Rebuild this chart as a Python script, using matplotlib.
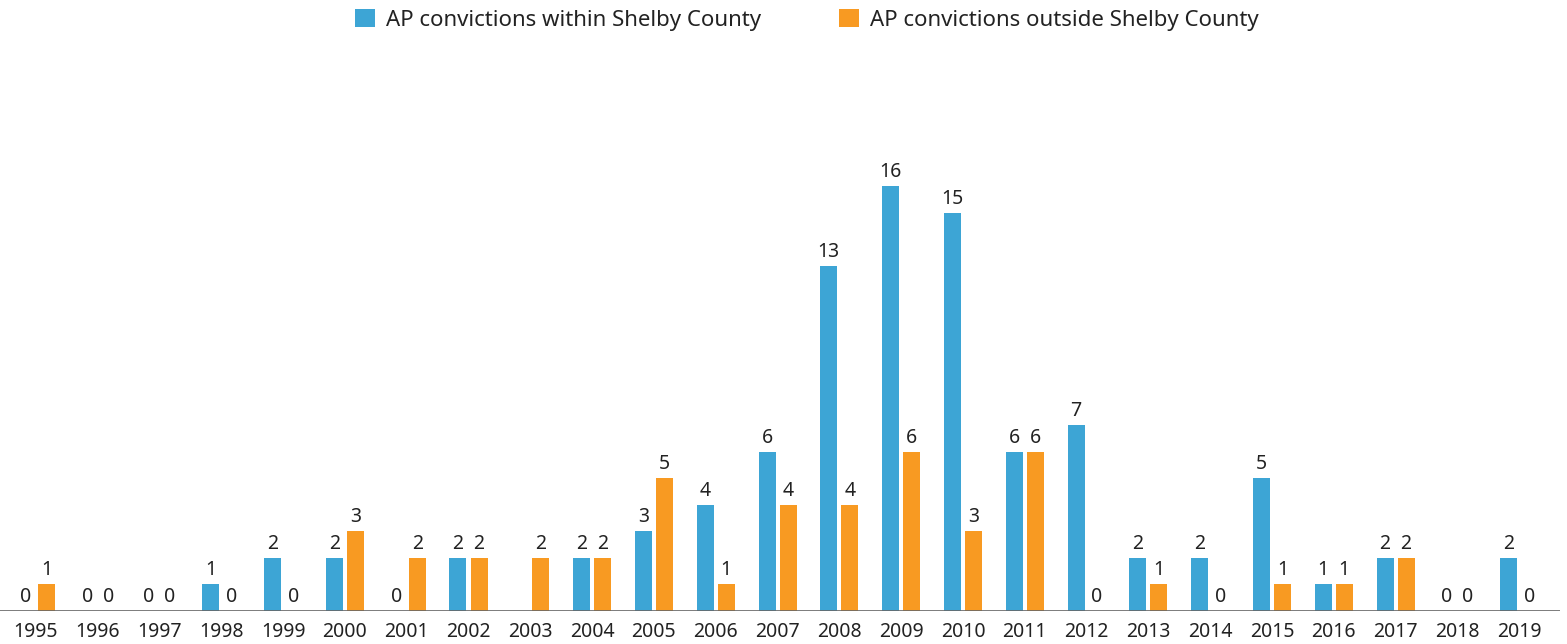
import matplotlib
matplotlib.use("Agg")
import matplotlib.pyplot as plt
import matplotlib.patches as mpatches
import numpy as np

# ---------------------------------------------------------------------------
# Data
# ---------------------------------------------------------------------------
YEARS = [str(y) for y in range(1995, 2020)]
WITHIN = [0, 0, 0, 1, 2, 2, 0, 2, 0, 2, 3, 4, 6, 13, 16, 15, 6, 7, 2, 2, 5, 1, 2, 0, 2]
OUTSIDE = [1, 0, 0, 0, 0, 3, 2, 2, 2, 2, 5, 1, 4, 4, 6, 3, 6, 0, 1, 0, 1, 1, 2, 0, 0]
# 2003 has no blue bar / label in the source
WITHIN_SHOWN = [True] * len(YEARS)
WITHIN_SHOWN[YEARS.index("2003")] = False

LABELS = ["AP convictions within Shelby County", "AP convictions outside Shelby County"]
BLUE = "#3DA5D5"
ORANGE = "#F89A22"

plt.rcParams["font.family"] = ["Noto Sans", "DejaVu Sans"]

W, H = 1567, 644
fig = plt.figure(figsize=(W / 100, H / 100), dpi=100)
fig.patch.set_facecolor("white")

ymax = 20
base_px = 611
px_per_unit = 26.56
top_px = base_px - ymax * px_per_unit
ax = fig.add_axes([0, (H - base_px) / H, 1560 / W, (base_px - top_px) / H])

x = np.arange(len(YEARS), dtype=float)
bar_w = 0.275
off = 0.17
FS = 14

for i in range(len(YEARS)):
    if WITHIN_SHOWN[i]:
        ax.bar(x[i] - off, WITHIN[i], width=bar_w, color=BLUE, zorder=2)
        ax.text(x[i] - off, WITHIN[i] + 0.15, str(WITHIN[i]), ha="center", va="bottom",
                fontsize=FS, color="#222222")
    ax.bar(x[i] + off, OUTSIDE[i], width=bar_w, color=ORANGE, zorder=2)
    ax.text(x[i] + off, OUTSIDE[i] + 0.15, str(OUTSIDE[i]), ha="center", va="bottom",
            fontsize=FS, color="#222222")

ax.set_xlim(-0.58, 24.66)
ax.set_ylim(0, ymax)
ax.axhline(0, color="#666666", linewidth=1.2, zorder=3)

ax.set_xticks(x)
ax.set_xticklabels(YEARS, fontsize=FS, color="#222222")
ax.tick_params(axis="x", length=0, pad=8)
ax.set_yticks([])
for s in ["top", "right", "left", "bottom"]:
    ax.spines[s].set_visible(False)

handles = [mpatches.Patch(facecolor=BLUE, label=LABELS[0]),
           mpatches.Patch(facecolor=ORANGE, label=LABELS[1])]
fig.legend(handles=handles, loc="upper center", bbox_to_anchor=(0.515, 1.017), ncol=2,
           frameon=False, fontsize=16, handlelength=0.9, handleheight=0.9,
           handletextpad=0.5, columnspacing=3.5, labelcolor="#222222")

fig.savefig("out.png", dpi=100, facecolor="white")
